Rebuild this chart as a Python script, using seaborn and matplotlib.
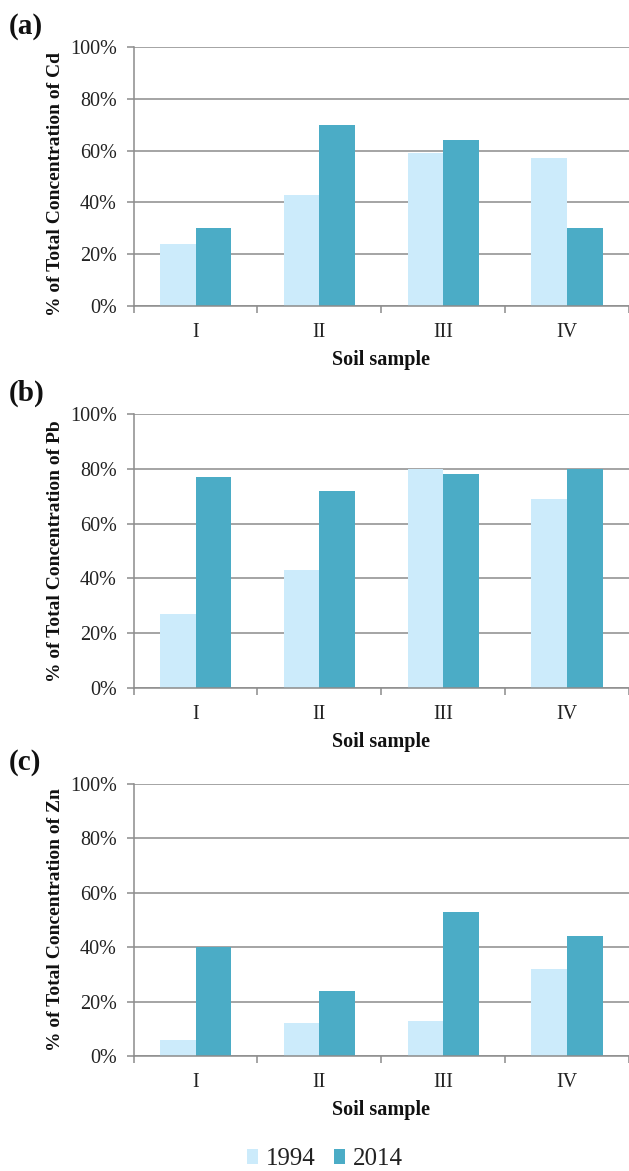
import matplotlib
matplotlib.use("Agg")
import matplotlib.pyplot as plt
import seaborn as sns
import pandas as pd
from matplotlib.ticker import FixedLocator, PercentFormatter
from matplotlib.patches import Patch

# Soil samples and sampling years
samples = ["I", "II", "III", "IV"]
years = ["1994", "2014"]

# % of total concentration per metal, by year
cd_1994 = [24, 43, 59, 57]
cd_2014 = [30, 70, 64, 30]
pb_1994 = [27, 43, 80, 69]
pb_2014 = [77, 72, 78, 80]
zn_1994 = [6, 12, 13, 32]
zn_2014 = [40, 24, 53, 44]

panels = [
    ("(a)", "Cd", cd_1994, cd_2014),
    ("(b)", "Pb", pb_1994, pb_2014),
    ("(c)", "Zn", zn_1994, zn_2014),
]

palette = {"1994": "#CCEBFB", "2014": "#4BACC6"}
grid_col = "#8C8C8C"

sns.set_theme(style="white")
plt.rcParams["font.family"] = ["Liberation Serif", "DejaVu Serif"]

fig = plt.figure(figsize=(6.29, 11.71), dpi=100)

# axes placement in pixels: (top of 100%, baseline of 0%, y-label centre)
rows = [(47, 306, 0.47), (414, 688, 0.5), (784, 1056, 0.5)]
H = 1171.0
W = 629.0
left_px = 133.6
ax_w = W - left_px

for (tag, metal, v94, v14), (top, bot, ycen) in zip(panels, rows):
    ax = fig.add_axes([left_px / W, 1 - bot / H, ax_w / W, (bot - top) / H])
    df = pd.DataFrame({
        "sample": samples * 2,
        "year": [years[0]] * 4 + [years[1]] * 4,
        "value": v94 + v14,
    })
    sns.barplot(data=df, x="sample", y="value", hue="year", palette=palette,
                width=0.575, ax=ax, legend=False, saturation=1.0,
                edgecolor="none", linewidth=0)
    ax.set_xlim(-0.5, 3.5)
    ax.set_ylim(0, 100)
    ax.yaxis.set_major_locator(FixedLocator([0, 20, 40, 60, 80, 100]))
    ax.yaxis.set_major_formatter(PercentFormatter(decimals=0))
    ax.set_axisbelow(True)
    ax.grid(axis="y", color=grid_col, linewidth=1.1)
    ax.grid(axis="x", visible=False)
    for s in ["top", "right"]:
        ax.spines[s].set_visible(False)
    for s in ["left", "bottom"]:
        ax.spines[s].set_visible(True)
        ax.spines[s].set_color(grid_col)
        ax.spines[s].set_linewidth(1.1)
    ax.tick_params(axis="y", which="major", left=True, length=5, width=1.1,
                   color=grid_col, labelsize=14.5, pad=7, labelcolor="#222222")
    ax.tick_params(axis="x", which="major", bottom=False, labelsize=14.5,
                   pad=6, labelcolor="#222222")
    ax.xaxis.set_minor_locator(FixedLocator([-0.5, 0.5, 1.5, 2.5, 3.5]))
    ax.tick_params(axis="x", which="minor", bottom=True, length=5, width=1.1,
                   color=grid_col)
    ax.set_xlabel("Soil sample", fontsize=14.5, fontweight="bold", labelpad=6,
                  color="#111111")
    ax.set_ylabel(f"% of Total Concentration of {metal}", fontsize=14,
                  fontweight="bold", color="#111111")
    ax.yaxis.set_label_coords((64 - left_px) / ax_w, ycen)
    fig.text(9 / W, 1 - (top - 21) / H, tag, fontsize=21, fontweight="bold",
             va="center", ha="left", color="#111111")

# shared legend below the last panel
handles = [Patch(facecolor=palette[y], edgecolor="none") for y in years]
fig.legend(handles, years, loc="center", bbox_to_anchor=(0.517, 1 - 1159 / H),
           ncol=2, frameon=False, fontsize=18, handlelength=0.44,
           handleheight=0.56, handletextpad=0.3, columnspacing=0.75,
           labelcolor="#222222")

fig.savefig("out.png", dpi=100)
